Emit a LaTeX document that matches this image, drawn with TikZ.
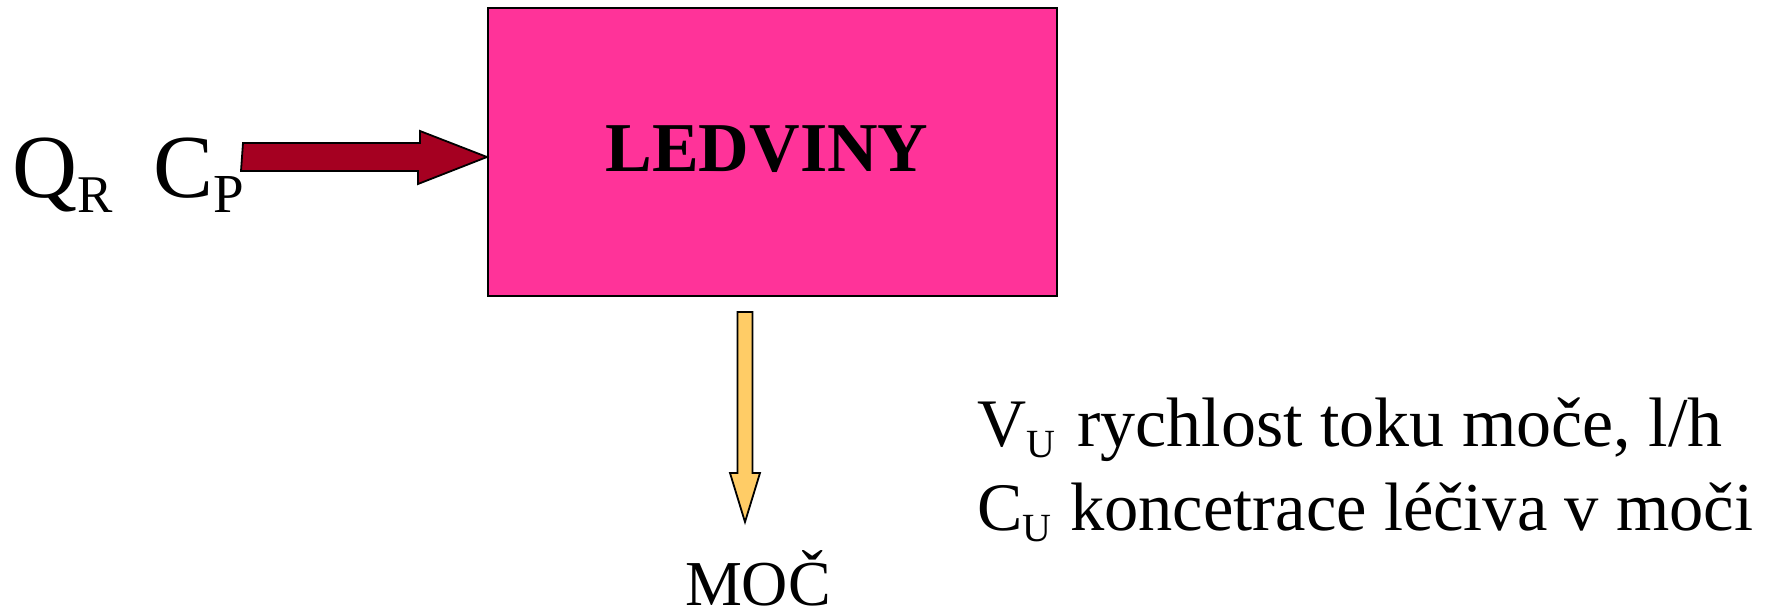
\documentclass[tikz,border=0pt]{standalone}
\usepackage{fontspec}
\setmainfont{Liberation Serif}
\usepackage{tikz}
\usetikzlibrary{positioning}
\usetikzlibrary{calc}
\definecolor{kidpink}{RGB}{255,51,153}
\definecolor{flowred}{RGB}{165,0,33}
\definecolor{urinegold}{RGB}{255,204,102}
\newcommand{\lowsub}[2]{\raisebox{-0.17em}{\fontsize{#2}{#2}\selectfont #1}}
\newcommand{\fsz}[1]{\fontsize{#1}{#1}\selectfont}
\tikzstyle{organ} = [rectangle,draw,line width=2pt,fill=kidpink,minimum width=569pt,minimum height=288pt,inner sep=0pt]
\tikzstyle{fat} = [draw,line width=1.8pt,line join=miter]
\tikzstyle{txt} = [inner sep=0pt,anchor=base west]

\begin{document}
\begin{tikzpicture}
	[x=1pt,y=-1pt]
	\useasboundingbox (0,0) rectangle (1769,613);
	
	\node (kid) [organ] at (772.5,151.5) {};
	\node (kidlbl) [inner sep=0pt,anchor=base] at (767,171) {\fsz{70}\bfseries LEDVINY};
	\node (inlbl) [txt] at (12,197) {\fsz{90}Q\lowsub{R}{53}\hspace{41pt}C\lowsub{P}{55}};
	\coordinate (inflow) at (243,157);
	\coordinate (outflow) at (745,312);
	\node (moc) [inner sep=0pt,anchor=base] at (758,605) {\fsz{64}MOČ};
	\node (vu) [txt] at (977,446) {\fsz{68}V\lowsub{U}{40}};
	\node (vudesc) [txt] at (1077,446) {\fsz{70}rychlost toku moče, l/h};
	\node (cu) [txt] at (977,530) {\fsz{68}C\lowsub{U}{40}};
	\node (cudesc) [txt] at (1070,530) {\fsz{68.5}koncetrace léčiva v moči};
	
	% prutok krve do ledvin
	\draw[fat,fill=flowred] (inflow) ++(0,-14) -- ++(177,0) -- ++(0,-12)
		-- (kid.west |- inflow) -- ++(-69,27) -- ++(0,-13) -- ++(-177,0) -- cycle;
	% vylucovani moci
	\draw[fat,fill=urinegold] (outflow) ++(-7.5,0) -- ++(0,161) -- ++(-7.5,0)
		-- ++(15,49) -- ++(15,-49) -- ++(-7.5,0) -- ++(0,-161) -- cycle;
\end{tikzpicture}
\end{document}
